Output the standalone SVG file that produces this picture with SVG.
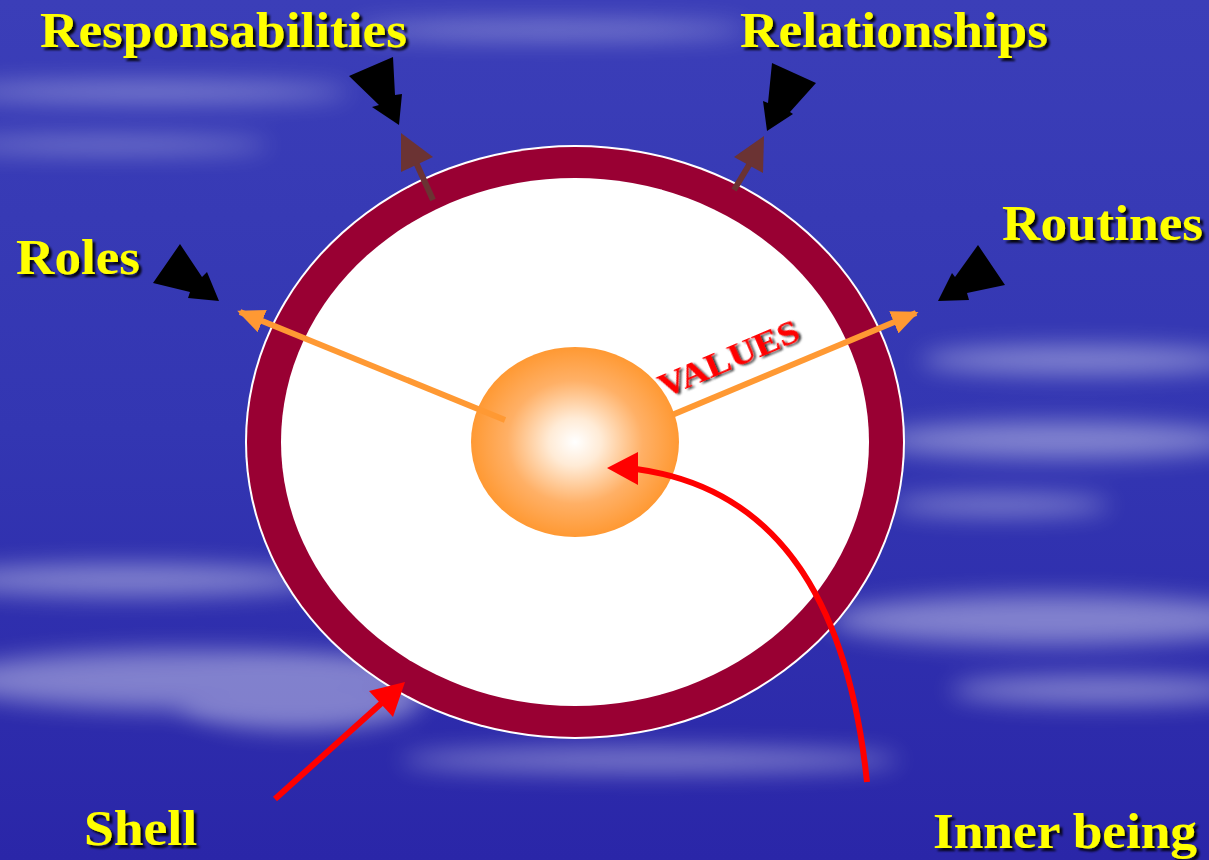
<svg xmlns="http://www.w3.org/2000/svg" width="1209" height="860" viewBox="0 0 1209 860">
<defs>
<style>
.lbl{font-family:"Liberation Serif","Times New Roman",serif;font-weight:bold;fill:#FFFF00;filter:url(#sh)}
.blk{fill:#000}
.brown{stroke:#6B3333;stroke-width:6;fill:none}
.orange{stroke:#FF9933;stroke-width:6;fill:none}
.red{stroke:#FF0000;stroke-width:6;fill:none}
.cloud{fill:#FFFFFF;filter:url(#blur)}
</style>
<linearGradient id="bg" x1="0" y1="0" x2="0" y2="1">
<stop offset="0" stop-color="#3B3EB8"/>
<stop offset="0.5" stop-color="#3336B2"/>
<stop offset="1" stop-color="#2A26A8"/>
</linearGradient>
<radialGradient id="ball" cx="0.5" cy="0.5" r="0.5">
<stop offset="0" stop-color="#FFFFFF"/>
<stop offset="0.25" stop-color="#FFEBD6"/>
<stop offset="0.65" stop-color="#FFB066"/>
<stop offset="1" stop-color="#FF9933"/>
</radialGradient>
<filter id="blur" filterUnits="userSpaceOnUse" x="-200" y="-200" width="1600" height="1300"><feGaussianBlur stdDeviation="12"/></filter>
<filter id="sh" x="-10%" y="-20%" width="130%" height="150%"><feDropShadow dx="3" dy="3" stdDeviation="0.8" flood-color="#000" flood-opacity="0.9"/></filter>
<filter id="sh2" x="-10%" y="-20%" width="130%" height="150%"><feDropShadow dx="2" dy="2" stdDeviation="1" flood-color="#000" flood-opacity="0.8"/></filter>
<marker id="oh" markerWidth="5" markerHeight="4" refX="4" refY="2" orient="auto" markerUnits="strokeWidth"><path d="M0,0 L4.5,2 L0,4 Z" fill="#FF9933"/></marker>
</defs>
<rect width="1209" height="860" fill="url(#bg)"/>
<g id="clouds" opacity="0.4">
<ellipse class="cloud" cx="150" cy="92" rx="200" ry="9"/>
<ellipse class="cloud" cx="110" cy="145" rx="160" ry="7"/>
<ellipse class="cloud" cx="550" cy="30" rx="200" ry="8"/>
<ellipse class="cloud" cx="1080" cy="360" rx="160" ry="14"/>
<ellipse class="cloud" cx="1060" cy="440" rx="180" ry="18"/>
<ellipse class="cloud" cx="1000" cy="505" rx="110" ry="10"/>
<ellipse class="cloud" cx="130" cy="580" rx="190" ry="16"/>
<ellipse class="cloud" cx="200" cy="680" rx="250" ry="30"/>
<ellipse class="cloud" cx="300" cy="700" rx="120" ry="30"/>
<ellipse class="cloud" cx="1050" cy="620" rx="220" ry="25"/>
<ellipse class="cloud" cx="1100" cy="690" rx="150" ry="14"/>
<ellipse class="cloud" cx="650" cy="760" rx="250" ry="12"/>
</g>
<g id="shell">
<ellipse cx="575" cy="442" rx="330" ry="297" fill="#FFFFFF"/>
<ellipse cx="575" cy="442" rx="328" ry="295" fill="#990033"/>
<ellipse cx="575" cy="442" rx="294" ry="264" fill="#FFFFFF"/>
</g>
<g id="inner-being">
<ellipse cx="575" cy="442" rx="104" ry="95" fill="url(#ball)"/>
</g>
<g id="connectors">
<line class="orange" x1="505" y1="420" x2="240" y2="312" marker-end="url(#oh)"/>
<line class="orange" x1="672" y1="415" x2="916" y2="313" marker-end="url(#oh)"/>
<line class="brown" x1="433" y1="200" x2="414" y2="158"/>
<polygon points="401,133 433,157 401,172" fill="#6B3333"/>
<line class="brown" x1="734" y1="190" x2="752" y2="160"/>
<polygon points="764,136 734,157 763,173" fill="#6B3333"/>
<polygon class="blk" points="349,76 393,57 395,95 402,94 399,125 372,107 379,105"/>
<polygon class="blk" points="772,63 816,83 790,112 793,114 767,131 763,101 768,103"/>
<polygon class="blk" points="180,244 153,283 190,292 188,298 219,301 207,272 202,277"/>
<polygon class="blk" points="978,245 1005,285 967,293 969,300 938,301 952,273 955,277"/>
<line class="red" x1="275" y1="799" x2="385" y2="700"/>
<polygon points="369,691 405,682 393,717" fill="#FF0000"/>
<path class="red" d="M867,782 C850,620 790,490 636,469"/>
<polygon points="607,468 638,452 638,485" fill="#FF0000"/>
</g>
<g id="values">
<text x="0" y="0" transform="translate(664,398) rotate(-23)" font-family="Liberation Serif, serif" font-weight="bold" font-size="34" fill="#FF0000" filter="url(#sh2)" textLength="150" lengthAdjust="spacingAndGlyphs">VALUES</text>
</g>
<g id="label-responsabilities"><text class="lbl" x="40" y="47" font-size="50" textLength="367" lengthAdjust="spacingAndGlyphs">Responsabilities</text></g>
<g id="label-relationships"><text class="lbl" x="740" y="47" font-size="50" textLength="308" lengthAdjust="spacingAndGlyphs">Relationships</text></g>
<g id="label-routines"><text class="lbl" x="1002" y="240" font-size="50" textLength="201" lengthAdjust="spacingAndGlyphs">Routines</text></g>
<g id="label-roles"><text class="lbl" x="16" y="274" font-size="50" textLength="124" lengthAdjust="spacingAndGlyphs">Roles</text></g>
<g id="label-shell"><text class="lbl" x="84" y="845" font-size="50" textLength="113" lengthAdjust="spacingAndGlyphs">Shell</text></g>
<g id="label-inner-being"><text class="lbl" x="933" y="848" font-size="50" textLength="264" lengthAdjust="spacingAndGlyphs">Inner being</text></g>
</svg>
